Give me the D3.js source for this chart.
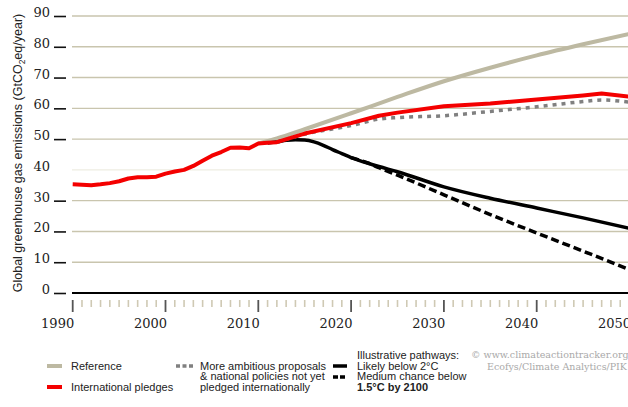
<!DOCTYPE html>
<html><head><meta charset="utf-8">
<script src="https://cdn.jsdelivr.net/npm/d3@7"></script>
<style>
html,body{margin:0;padding:0;background:#fff;}
svg{display:block;}
</style></head>
<body>
<svg id="chart" width="628" height="407"></svg>
<script>
// ---- data ----
const yTicks = [0,10,20,30,40,50,60,70,80,90];
const xTickLabels = [1990,2000,2010,2020,2030,2040,2050];

const pledgeYears  = [1990,1991,1992,1993,1994,1995,1996,1997,1998,1999,2000,2001,2002,2003,2004,2005,2006,2007,2008,2009,2010,2011,2012,2015,2020,2023,2025,2030,2035,2040,2045,2047,2050];
const pledgeValues = [35.3,35.2,35.0,35.3,35.7,36.3,37.2,37.6,37.6,37.8,38.8,39.5,40.0,41.3,43.0,44.6,45.8,47.2,47.3,47.0,48.6,48.8,49.0,51.8,55.2,57.6,58.6,60.7,61.6,62.9,64.2,64.8,63.8];

const referenceYears  = [2010,2012,2015,2020,2025,2030,2035,2040,2045,2050];
const referenceValues = [48.6,50.2,53.2,58.4,63.7,68.8,73.2,77.2,80.8,84.2];

const ambitiousYears  = [2012,2015,2020,2023,2025,2030,2035,2040,2045,2047,2050];
const ambitiousValues = [49.0,51.6,54.4,56.5,57.0,57.6,59.0,60.5,62.2,62.7,62.0];

const below2Years  = [2011,2012,2013,2014,2015,2016,2017,2018,2019,2020,2022,2023,2025,2030,2035,2040,2045,2050];
const below2Values = [48.7,49.1,49.6,49.8,49.7,49.1,48.0,46.6,45.3,44.0,42.0,41.1,39.4,34.5,30.8,27.6,24.4,21.0];

const below15Years  = [2020,2022,2023,2025,2030,2035,2040,2045,2050];
const below15Values = [44.0,42.0,40.7,38.3,31.9,25.5,19.5,13.6,7.6];

// ---- layout ----
const svg = d3.select("#chart");
const x = d3.scaleLinear().domain([1990,2050]).range([72.7,629.5]);
const y = d3.scaleLinear().domain([0,90]).range([293,16]);
const plotLeft = 72, plotRight = 628;

// gridlines
svg.append("g").selectAll("line").data(yTicks.filter(d=>d>0)).join("line")
  .attr("x1",plotLeft).attr("x2",plotRight)
  .attr("y1",d=>y(d)).attr("y2",d=>y(d))
  .attr("stroke",d=>d===40?"#eeede2":"#c9c5ae").attr("stroke-width",1.4);

// y tick dashes and labels
const yAxisG = svg.append("g");
yAxisG.selectAll("line").data(yTicks.filter(d=>d!==40)).join("line")
  .attr("x1",54).attr("x2",66)
  .attr("y1",d=>y(d)+0.5).attr("y2",d=>y(d)+0.5)
  .attr("stroke","#111").attr("stroke-width",1.6);
yAxisG.selectAll("text").data(yTicks).join("text")
  .attr("x",50).attr("y",d=>y(d)+1)
  .attr("text-anchor","end")
  .attr("font-family","DejaVu Serif, serif").attr("font-size",13)
  .attr("fill","#222")
  .text(d=>d);

// zero line
svg.append("line").attr("x1",plotLeft).attr("x2",plotRight)
  .attr("y1",y(0)).attr("y2",y(0)).attr("stroke","#000").attr("stroke-width",1.8);

// x ticks
const allYears = d3.range(1990,2051);
const xg = svg.append("g");
xg.selectAll("line").data(allYears).join("line")
  .attr("x1",d=>x(d)).attr("x2",d=>x(d))
  .attr("y1",300)
  .attr("y2",d=>d%10===0?312:307)
  .attr("stroke",d=>d%10===0?"#555":"#cfc9b4")
  .attr("stroke-width",d=>d%10===0?1.8:1.6);
xg.selectAll("text").data(xTickLabels).join("text")
  .attr("x",d=>x(d)+1.5).attr("y",328)
  .attr("text-anchor","end")
  .attr("font-family","DejaVu Serif, serif").attr("font-size",13)
  .attr("fill","#222")
  .text(d=>d);

// y axis title
const yt = svg.append("text")
  .attr("transform","translate(22,153) rotate(-90)")
  .attr("text-anchor","middle")
  .attr("font-family","Liberation Sans, Arial, sans-serif").attr("font-size",12.5)
  .attr("fill","#222");
yt.append("tspan").text("Global greenhouse gas emissions (GtCO");
yt.append("tspan").attr("font-size",8.5).attr("dy",3).text("2");
yt.append("tspan").attr("dy",-3).text("eq/year)");

// lines
const line = d3.line().x(d=>x(d[0])).y(d=>y(d[1]));
const smooth = d3.line().curve(d3.curveMonotoneX).x(d=>x(d[0])).y(d=>y(d[1]));
const zip = (a,b)=>a.map((v,i)=>[v,b[i]]);

svg.append("path").datum(zip(referenceYears,referenceValues))
  .attr("d",smooth).attr("fill","none").attr("stroke","#bdb9a2").attr("stroke-width",4);
svg.append("path").datum(zip(below2Years,below2Values))
  .attr("d",smooth).attr("fill","none").attr("stroke","#000").attr("stroke-width",3.5);
svg.append("path").datum(zip(below15Years,below15Values))
  .attr("d",smooth).attr("fill","none").attr("stroke","#000").attr("stroke-width",3.5)
  .attr("stroke-dasharray","8,4");
svg.append("path").datum(zip(ambitiousYears,ambitiousValues))
  .attr("d",smooth).attr("fill","none").attr("stroke","#808080").attr("stroke-width",3.5)
  .attr("stroke-dasharray","4,5");
svg.append("path").datum(zip(pledgeYears,pledgeValues))
  .attr("d",line).attr("fill","none").attr("stroke","#f40000").attr("stroke-width",4)
  .attr("stroke-linejoin","round");

// legend
const lg = svg.append("g").attr("font-family","Liberation Sans, Arial, sans-serif")
  .attr("font-size",11).attr("fill","#222");
const sw = (x1,x2,yy,color,w,dash)=>{
  const l = lg.append("line").attr("x1",x1).attr("x2",x2).attr("y1",yy).attr("y2",yy)
    .attr("stroke",color).attr("stroke-width",w);
  if(dash) l.attr("stroke-dasharray",dash);
};
const txt = (xx,yy,t,weight)=>{
  const e = lg.append("text").attr("x",xx).attr("y",yy).text(t);
  if(weight) e.attr("font-weight",weight);
  return e;
};
sw(47,62,366,"#bdb9a2",4);
txt(71,369.5,"Reference");
sw(47,62,387,"#f40000",4);
txt(71,390.5,"International pledges");

sw(176,195,366,"#808080",3.5,"4,2.5");
txt(200,369.5,"More ambitious proposals");
txt(200,380.3,"& national policies not yet");
txt(200,391,"pledged internationally");

txt(357,358.5,"Illustrative pathways:");
sw(333,347,366,"#000",3.5);
txt(357,369.5,"Likely below 2°C");
sw(333,347,377,"#000",3.5,"5,2");
txt(357,380.3,"Medium chance below");
txt(357,391,"1.5°C by 2100","bold");

// credit
const cr = svg.append("g").attr("font-family","DejaVu Serif, serif")
  .attr("font-size",9.5).attr("fill","#a9a9a9");
cr.append("text").attr("x",471).attr("y",358).text("© www.climateactiontracker.org");
cr.append("text").attr("x",487).attr("y",369.5).text("Ecofys/Climate Analytics/PIK");
</script>
</body></html>
